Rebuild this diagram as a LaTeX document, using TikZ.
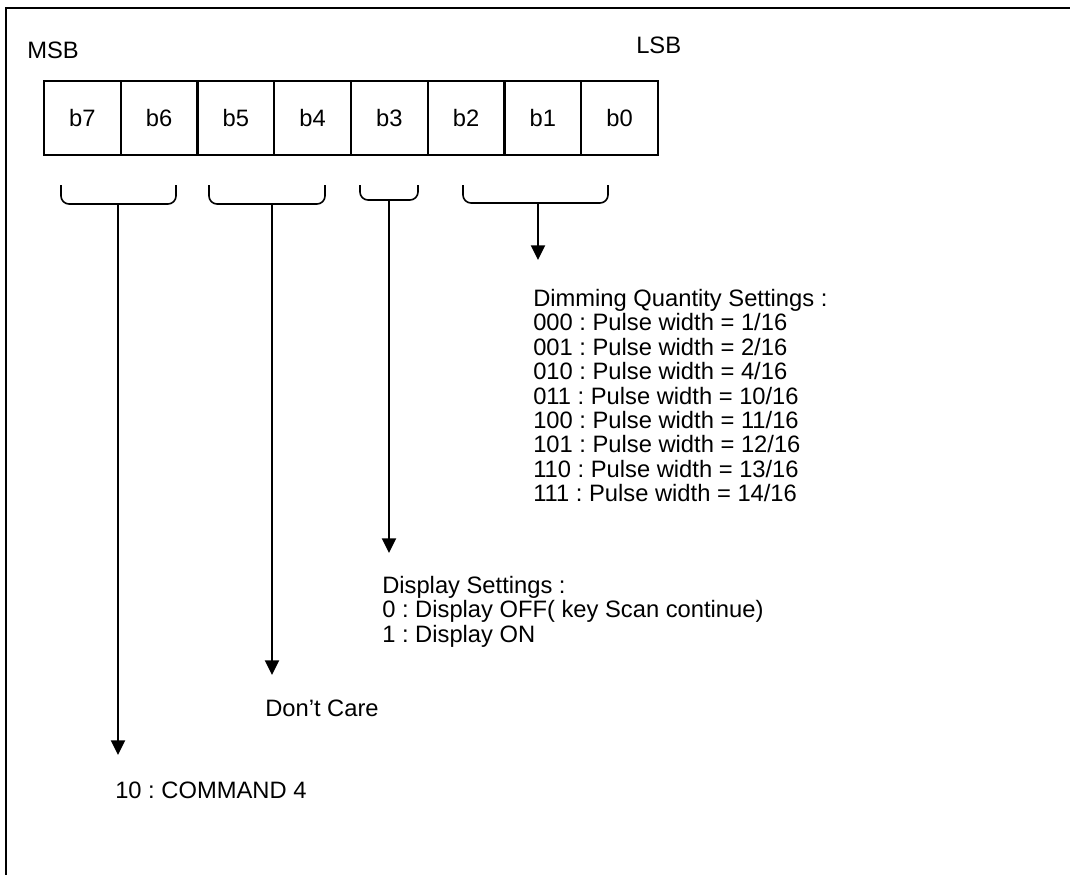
\documentclass[tikz,border=0pt]{standalone}
\usepackage{fontspec}
\setmainfont{Liberation Sans}
\usetikzlibrary{arrows.meta}
\frenchspacing

\tikzset{
  cell/.style={draw, line width=1.5pt, minimum width=57.56pt, minimum height=55.5pt, inner sep=0pt},
  brace/.style={line width=1.2pt, rounded corners=6pt},
  stem/.style={line width=1.5pt, -{Triangle[width=10.5pt,length=11pt]}},
  lbl/.style={anchor=north west, inner sep=0pt, align=left}
}

\begin{document}
\begin{tikzpicture}[x=0.75pt,y=0.75pt,yscale=-1,xscale=1,
  font=\fontsize{17.8pt}{18.3pt}\selectfont]

\useasboundingbox (0,0) rectangle (1070,875);

% frame
\draw [line width=1.5pt]  (1070,8) -- (6,8) -- (6,875) ;

% register cells
\node [cell] (b7) at (82.4,118) {b7};
\node [cell] (b6) at (159.1,118) {b6};
\node [cell] (b5) at (235.9,118) {b5};
\node [cell] (b4) at (312.6,118) {b4};
\node [cell] (b3) at (389.4,118) {b3};
\node [cell] (b2) at (466.1,118) {b2};
\node [cell] (b1) at (542.9,118) {b1};
\node [cell] (b0) at (619.6,118) {b0};

\node [lbl] (msb) at (27,42) {MSB};
\node [lbl] (lsb) at (636,37) {LSB};

% brackets under the bit groups
\draw [brace]  (61,185) -- (61,204) -- (176,204) -- (176,185) ;
\draw [brace]  (209,185) -- (209,204) -- (325,204) -- (325,185) ;
\draw [brace]  (360,185) -- (360,200) -- (418,200) -- (418,185) ;
\draw [brace]  (463,185) -- (463,203) -- (608,203) -- (608,185) ;

\coordinate (gcmd) at (118,204);
\coordinate (gdc) at (272,204);
\coordinate (gdisp) at (389,200);
\coordinate (gdim) at (538,203);

\coordinate (tcmd) at (118,755);
\coordinate (tdc) at (272,675);
\coordinate (tdisp) at (389,553);
\coordinate (tdim) at (538,260);

\draw [stem]  (gcmd) -- (tcmd) ;
\draw [stem]  (gdc) -- (tdc) ;
\draw [stem]  (gdisp) -- (tdisp) ;
\draw [stem]  (gdim) -- (tdim) ;

% descriptions
\node [lbl] (dim) at (533,289) {Dimming Quantity Settings :\\
000 : Pulse width = 1/16\\
001 : Pulse width = 2/16\\
010 : Pulse width = 4/16\\
011 : Pulse width = 10/16\\
100 : Pulse width = 11/16\\
101 : Pulse width = 12/16\\
110 : Pulse width = 13/16\\
111 : Pulse width = 14/16};
\node [lbl] (disp) at (382,576) {Display Settings :\\
0 : Display OFF( key Scan continue)\\
1 : Display ON};
\node [lbl] (dc) at (265,700) {Don’t Care};
\node [lbl] (cmd) at (115,782) {10 : COMMAND 4};

\end{tikzpicture}
\end{document}
